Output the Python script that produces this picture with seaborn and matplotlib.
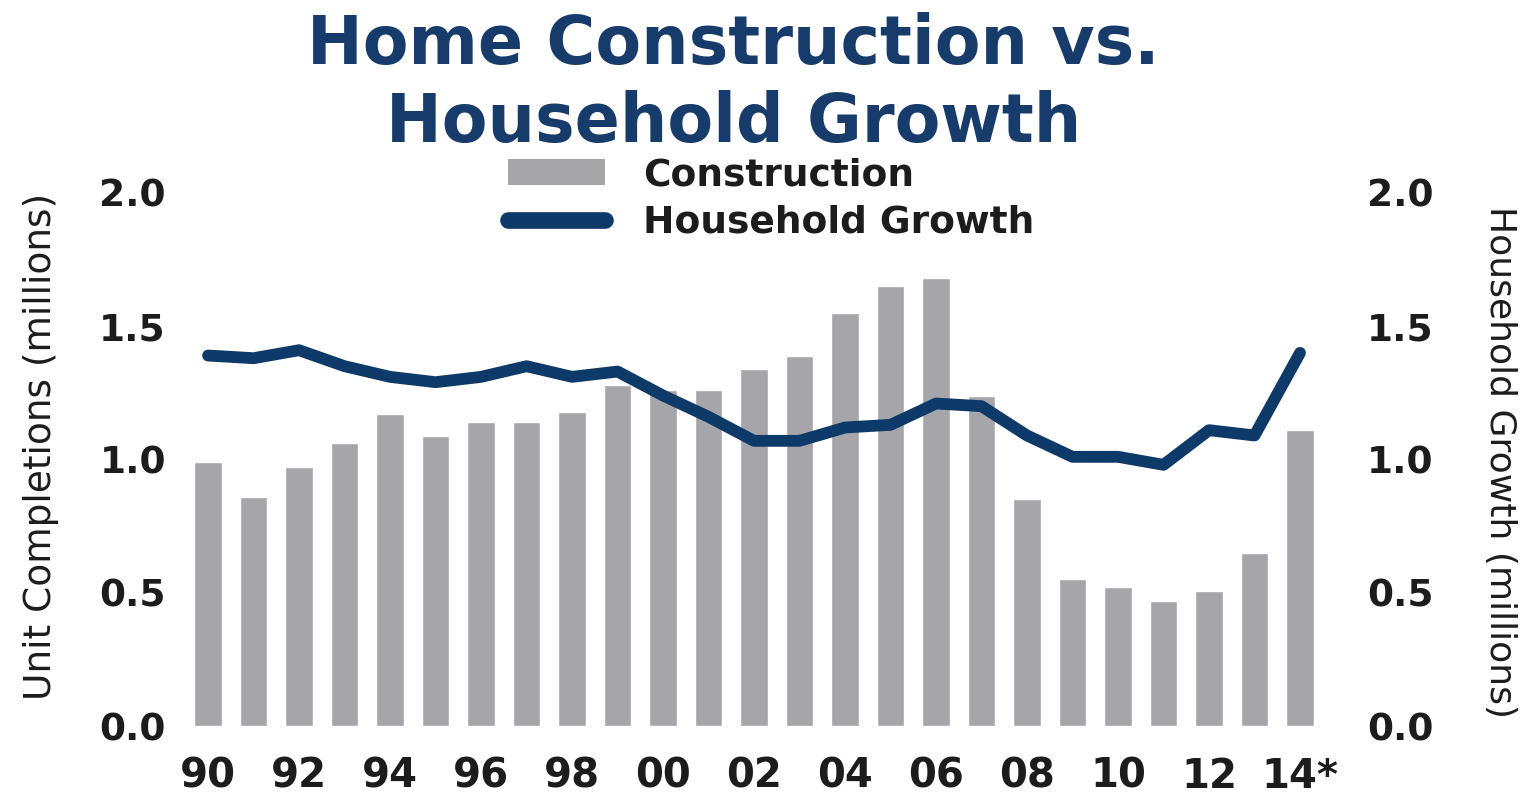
import numpy as np
import pandas as pd
import matplotlib
matplotlib.use("Agg")
import matplotlib.pyplot as plt
import seaborn as sns
from matplotlib.patches import Patch
from matplotlib.lines import Line2D

# Annual values, 1990-2014 (millions)
years = ["90", "91", "92", "93", "94", "95", "96", "97", "98", "99",
         "00", "01", "02", "03", "04", "05", "06", "07", "08", "09",
         "10", "11", "12", "13", "14*"]
construction = [0.99, 0.86, 0.97, 1.06, 1.17, 1.09, 1.14, 1.14, 1.18, 1.28,
                1.26, 1.26, 1.34, 1.39, 1.55, 1.65, 1.68, 1.24, 0.85, 0.55,
                0.52, 0.47, 0.505, 0.65, 1.11]
household_growth = [1.39, 1.38, 1.41, 1.35, 1.31, 1.29, 1.31, 1.35, 1.31, 1.33,
                    1.24, 1.16, 1.07, 1.07, 1.12, 1.13, 1.21, 1.20, 1.09, 1.01,
                    1.01, 0.98, 1.11, 1.09, 1.40]
y_ticks = [0.0, 0.5, 1.0, 1.5, 2.0]

BAR = "#a6a6aa"
NAVY = "#0e3a6a"
TITLE = "#173b6b"
INK = "#1c1c1c"

sns.set_theme(style="white")
plt.rcParams["font.family"] = ["DejaVu Sans"]

df = pd.DataFrame({"year": years,
                   "construction": construction,
                   "household": household_growth})

fig = plt.figure(figsize=(15.34, 7.98), dpi=100)
ax = fig.add_axes([0.1208, 0.0902, 0.7415, 0.668])

sns.barplot(data=df, x="year", y="construction", color=BAR,
            saturation=1, width=0.6, ax=ax)

ax2 = ax.twinx()
sns.lineplot(x=np.arange(len(years)), y=df["household"], color=NAVY,
             linewidth=8.5, ax=ax2, solid_capstyle="round",
             solid_joinstyle="round")

n = len(years)
for a in (ax, ax2):
    a.set_xlim(-0.5, n - 0.5)
    a.set_ylim(0, 2.0)
    a.set_yticks(y_ticks)
    a.set_yticklabels([f"{v:.1f}" for v in y_ticks])
    a.set_xlabel("")
    a.set_ylabel("")
    for s in a.spines.values():
        s.set_visible(False)

ax.set_xticks(range(0, n, 2))
ax.set_xticklabels(years[::2])
ax.tick_params(axis="x", length=0, pad=22, labelsize=29, labelcolor=INK)
ax.tick_params(axis="y", length=0, pad=14, labelsize=27, labelcolor=INK)
ax2.tick_params(axis="y", length=0, pad=32, labelsize=27, labelcolor=INK)
for lab in ax.get_xticklabels() + ax.get_yticklabels() + ax2.get_yticklabels():
    lab.set_fontweight("bold")

fig.text(0.027, 0.44, "Unit Completions (millions)", rotation=90,
         ha="center", va="center", fontsize=27, color=INK)
fig.text(0.978, 0.421, "Household Growth (millions)", rotation=270,
         ha="center", va="center", fontsize=26, color=INK)

fig.text(0.478, 0.895, "Home Construction vs.\nHousehold Growth",
         ha="center", va="center", fontsize=48, fontweight="bold",
         color=TITLE, linespacing=1.22)

handles = [Patch(facecolor=BAR, edgecolor="none", label="Construction"),
           Line2D([0], [0], color=NAVY, lw=12, solid_capstyle="round",
                  label="Household Growth")]
leg = fig.legend(handles=handles, loc="upper left",
                 bbox_to_anchor=(0.309, 0.845), frameon=False,
                 prop={"size": 27, "weight": "bold"},
                 handlelength=2.6, handletextpad=1.0, labelspacing=0.3)
for t in leg.get_texts():
    t.set_color(INK)

fig.savefig("out.png", dpi=100, facecolor="white")
